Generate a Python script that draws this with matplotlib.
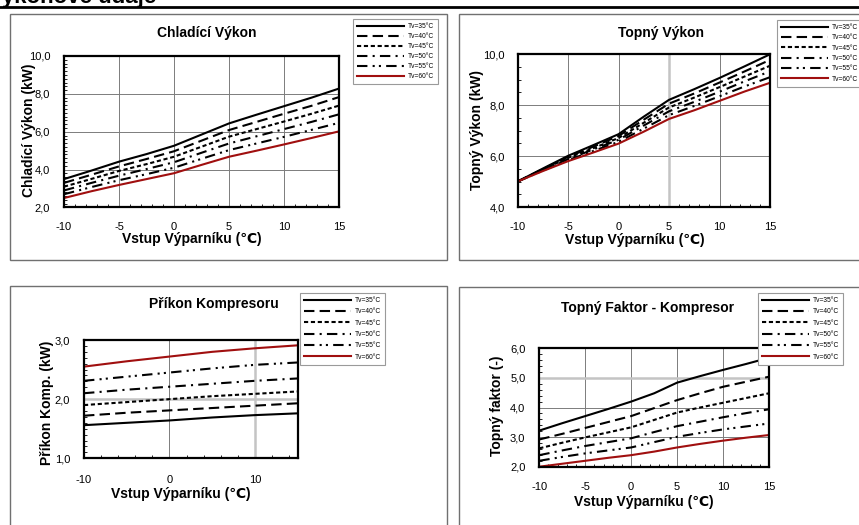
import matplotlib
matplotlib.use('Agg')
import matplotlib.pyplot as plt
from matplotlib.patches import Rectangle
from matplotlib.lines import Line2D
from matplotlib.ticker import MultipleLocator, FuncFormatter

plt.rcParams['font.family'] = ['Liberation Sans', 'DejaVu Sans']

W, H = 859, 525

# ---------------- data ----------------
series_labels = ['Tv=35°C', 'Tv=40°C', 'Tv=45°C', 'Tv=50°C', 'Tv=55°C', 'Tv=60°C']
x_evap = [-10, -7.5, -5, -2.5, 0, 2.5, 5, 7.5, 10, 12.5, 15]
x_evap_p = [-10, -5, 0, 5, 10, 15]

# Chladící Výkon (kW)
cool_35 = [3.50, 3.95, 4.42, 4.82, 5.26, 5.85, 6.44, 6.90, 7.35, 7.80, 8.28]
cool_40 = [3.30, 3.73, 4.17, 4.56, 4.97, 5.53, 6.09, 6.52, 6.95, 7.37, 7.83]
cool_45 = [3.10, 3.51, 3.93, 4.29, 4.68, 5.21, 5.74, 6.14, 6.54, 6.95, 7.38]
cool_50 = [2.90, 3.30, 3.68, 4.03, 4.39, 4.89, 5.38, 5.76, 6.14, 6.52, 6.92]
cool_55 = [2.70, 3.08, 3.44, 3.76, 4.10, 4.57, 5.03, 5.38, 5.73, 6.10, 6.47]
cool_60 = [2.50, 2.86, 3.19, 3.50, 3.81, 4.25, 4.68, 5.00, 5.33, 5.67, 6.02]

# Topný Výkon (kW)
heat_35 = [5.00, 5.51, 6.01, 6.43, 6.86, 7.55, 8.21, 8.63, 9.07, 9.53, 10.00]
heat_40 = [5.00, 5.49, 5.97, 6.37, 6.79, 7.43, 8.06, 8.46, 8.89, 9.33, 9.78]
heat_45 = [5.00, 5.47, 5.93, 6.31, 6.71, 7.31, 7.91, 8.30, 8.71, 9.13, 9.55]
heat_50 = [5.00, 5.45, 5.88, 6.26, 6.64, 7.20, 7.76, 8.13, 8.53, 8.94, 9.33]
heat_55 = [5.00, 5.43, 5.84, 6.20, 6.56, 7.08, 7.61, 7.97, 8.35, 8.74, 9.10]
heat_60 = [5.00, 5.41, 5.80, 6.14, 6.49, 6.96, 7.46, 7.80, 8.17, 8.54, 8.88]

# Příkon Kompresoru (kW)
pow_35 = [1.56, 1.60, 1.64, 1.69, 1.73, 1.76]
pow_40 = [1.72, 1.77, 1.81, 1.85, 1.89, 1.93]
pow_45 = [1.90, 1.95, 2.00, 2.05, 2.09, 2.13]
pow_50 = [2.10, 2.16, 2.21, 2.26, 2.31, 2.35]
pow_55 = [2.31, 2.38, 2.45, 2.52, 2.58, 2.62]
pow_60 = [2.55, 2.64, 2.72, 2.80, 2.86, 2.91]

# Topný Faktor (-)
cop_35 = [3.22, 3.47, 3.71, 3.95, 4.20, 4.48, 4.84, 5.06, 5.27, 5.47, 5.68]
cop_40 = [2.92, 3.11, 3.31, 3.51, 3.71, 3.98, 4.25, 4.48, 4.70, 4.87, 5.04]
cop_45 = [2.62, 2.81, 2.99, 3.16, 3.33, 3.58, 3.83, 4.00, 4.16, 4.32, 4.48]
cop_50 = [2.39, 2.55, 2.70, 2.83, 2.96, 3.17, 3.37, 3.52, 3.67, 3.81, 3.94]
cop_55 = [2.20, 2.33, 2.45, 2.55, 2.65, 2.83, 3.01, 3.14, 3.26, 3.36, 3.46]
cop_60 = [2.00, 2.10, 2.20, 2.30, 2.39, 2.51, 2.65, 2.77, 2.88, 2.98, 3.07]

# ---------------- styles ----------------
RED = '#a00f0f'
LW = 1.5
styles = [
    dict(color='black', ls='-'),
    dict(color='black', ls=(0, (5, 2.5))),
    dict(color='black', ls=(0, (2, 1.3))),
    dict(color='black', ls=(0, (5, 2.5, 1, 2.5))),
    dict(color='black', ls=(0, (5, 2.5, 1, 2, 1, 2.5))),
    dict(color=RED, ls='-'),
]
GRID = '#7c7c7c'
LIGHT = '#c4c4c4'


def fx(px):
    return px / W


def fy(py):
    return 1 - py / H


fig = plt.figure(figsize=(W / 100, H / 100), dpi=100)

# header (cut off at the top edge, as in the reference)
fig.text(fx(-13), fy(3.5), 'Výkonové údaje', fontsize=16, fontweight='bold',
         ha='left', va='baseline')
fig.add_artist(Line2D([0, 1], [fy(6.5), fy(6.5)], transform=fig.transFigure,
                      color='black', lw=2))

# panel frames
for (l, t, r, b) in [(10, 14, 447, 260), (459, 14, 875, 260),
                     (10, 286, 447, 540), (459, 287, 875, 540)]:
    fig.add_artist(Rectangle((fx(l), fy(b)), (r - l) / W, (b - t) / H,
                             transform=fig.transFigure, fill=False,
                             edgecolor='#707070', lw=1.0, zorder=0))


def make_axes(l, t, r, b):
    return fig.add_axes([fx(l), fy(b), (r - l) / W, (b - t) / H])


def setup(ax, xlim, xmaj, xmin, ylim, ymaj, ymin, xpad, ypad):
    ax.set_xlim(*xlim)
    ax.set_ylim(*ylim)
    ax.xaxis.set_major_locator(MultipleLocator(xmaj))
    ax.xaxis.set_minor_locator(MultipleLocator(xmin))
    ax.yaxis.set_major_locator(MultipleLocator(ymaj))
    ax.yaxis.set_minor_locator(MultipleLocator(ymin))
    ax.xaxis.set_major_formatter(FuncFormatter(lambda v, p: f'{int(round(v))}'))
    ax.yaxis.set_major_formatter(FuncFormatter(lambda v, p: f'{v:.1f}'.replace('.', ',')))
    ax.tick_params(which='both', direction='in', top=False, right=False,
                   labelsize=8, colors='black')
    ax.tick_params(which='major', length=0)
    ax.tick_params(axis='x', which='major', pad=xpad)
    ax.tick_params(axis='y', which='major', pad=ypad)
    ax.tick_params(which='minor', length=2.5, width=0.6)
    ax.set_axisbelow(True)
    ax.grid(True, which='major', color=GRID, lw=0.7)
    for s in ax.spines.values():
        s.set_linewidth(1.6)
        s.set_color('black')


def plot_series(ax, x, ys):
    for y, st, lab in zip(ys, styles, series_labels):
        ax.plot(x, y, lw=LW, label=lab, **st)


def add_legend(ax, left, top, spacing):
    leg = ax.legend(loc='upper left', bbox_to_anchor=(fx(left), fy(top)),
                    bbox_transform=fig.transFigure, fontsize=4.8,
                    handlelength=7.0, handletextpad=0.6, labelspacing=spacing,
                    borderpad=0.6, borderaxespad=0, frameon=True, fancybox=False,
                    framealpha=1, edgecolor='#9a9a9a')
    leg.get_frame().set_linewidth(0.8)
    leg.set_zorder(10)


def labels(title, tpos, xl, xpos, yl, ypos):
    fig.text(fx(tpos[0]), fy(tpos[1]), title, fontsize=10, fontweight='bold',
             ha='center', va='center')
    fig.text(fx(xpos[0]), fy(xpos[1]), xl, fontsize=10, fontweight='bold',
             ha='center', va='center')
    fig.text(fx(ypos[0]), fy(ypos[1]), yl, fontsize=10, fontweight='bold',
             ha='center', va='center', rotation=90)


XLABEL = 'Vstup Výparníku (℃)'

# Panel 1 - Chladící Výkon
ax1 = make_axes(64, 56, 339, 207.5)
setup(ax1, (-10, 15), 5, 1, (2, 10), 2, 0.2, 10.5, 10)
plot_series(ax1, x_evap, [cool_35, cool_40, cool_45, cool_50, cool_55, cool_60])
add_legend(ax1, 353, 19, 0.45)
labels('Chladící Výkon', (207, 33), XLABEL, (192, 239), 'Chladící Výkon (kW)', (29, 130))

# Panel 2 - Topný Výkon
ax2 = make_axes(517.5, 54.3, 770, 207)
setup(ax2, (-10, 15), 5, 1, (4, 10), 2, 0.5, 10.5, 9)
ax2.axvline(5, color=LIGHT, lw=1.8, zorder=0.6)
plot_series(ax2, x_evap, [heat_35, heat_40, heat_45, heat_50, heat_55, heat_60])
add_legend(ax2, 777, 20, 0.5)
labels('Topný Výkon', (661, 33), XLABEL, (634.5, 240), 'Topný Výkon (kW)', (477, 130))

# Panel 3 - Příkon Kompresoru
ax3 = make_axes(84, 340, 297.7, 458.3)
setup(ax3, (-10, 15), 10, 2, (1, 3), 1, 0.1, 12, 10)
ax3.axvline(10, color=LIGHT, lw=1.8, zorder=0.6)
ax3.axhline(2, color=LIGHT, lw=1.8, zorder=0.6)
plot_series(ax3, x_evap_p, [pow_35, pow_40, pow_45, pow_50, pow_55, pow_60])
add_legend(ax3, 300, 293, 0.65)
labels('Příkon Kompresoru', (214, 304), XLABEL, (180.5, 494), 'Příkon Komp. (kW)', (46.5, 403))

# Panel 4 - Topný Faktor
ax4 = make_axes(539.3, 348.3, 769, 466.7)
setup(ax4, (-10, 15), 5, 1, (2, 6), 1, 0.2, 11, 10)
ax4.axhline(5, color=LIGHT, lw=1.8, zorder=0.6)
plot_series(ax4, x_evap, [cop_35, cop_40, cop_45, cop_50, cop_55, cop_60])
add_legend(ax4, 758, 293, 0.65)
labels('Topný Faktor - Kompresor', (647.5, 308), XLABEL, (644, 502), 'Topný faktor (-)', (497, 406))

fig.savefig('out.png', dpi=100)
